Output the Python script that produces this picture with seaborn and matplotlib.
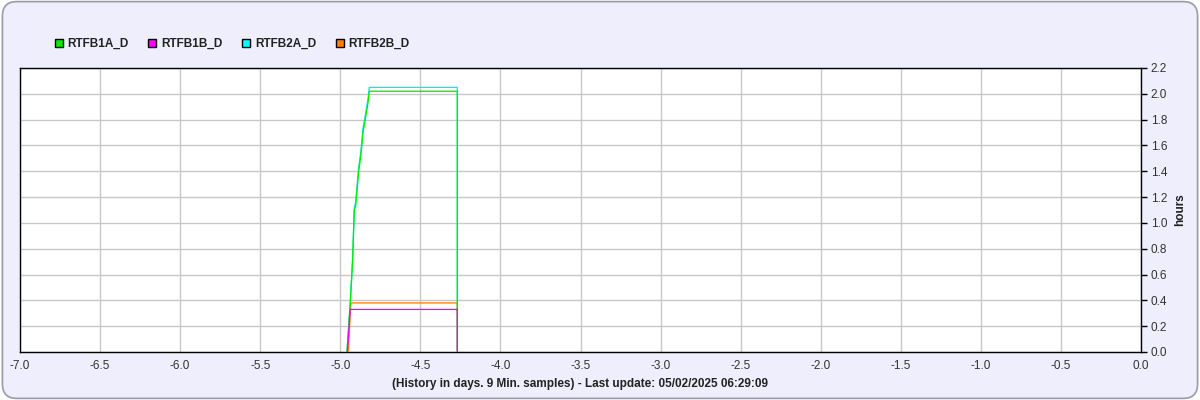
import numpy as np
import pandas as pd
import matplotlib
matplotlib.use("Agg")
import matplotlib.pyplot as plt
from matplotlib.patches import FancyBboxPatch
from matplotlib.lines import Line2D
import seaborn as sns

sns.set_style("white")
plt.rcParams['font.family'] = ['Liberation Sans', 'DejaVu Sans']

# ---- data ----
series_names = ["RTFB1A_D", "RTFB1B_D", "RTFB2A_D", "RTFB2B_D"]
series_colors = ["#00ee00", "#ff00ff", "#00eeee", "#ff8000"]

rtfb1a_x = [-4.958, -4.9375, -4.923, -4.9125, -4.904, -4.902, -4.886, -4.871, -4.858, -4.827, -4.824, -4.819, -4.269, -4.269]
rtfb1a_y = [0.0, 0.38, 0.71, 1.10, 1.13, 1.16, 1.39, 1.53, 1.70, 1.93, 1.96, 2.02, 2.02, 0.0]

rtfb1b_x = [-4.956, -4.938, -4.269, -4.269]
rtfb1b_y = [0.0, 0.33, 0.33, 0.0]

rtfb2a_x = [-4.958, -4.9375, -4.923, -4.9125, -4.904, -4.902, -4.886, -4.871, -4.858, -4.827, -4.824, -4.819, -4.269, -4.269]
rtfb2a_y = [0.0, 0.39, 0.72, 1.12, 1.16, 1.19, 1.42, 1.56, 1.73, 1.96, 1.99, 2.05, 2.05, 0.0]

rtfb2b_x = [-4.950, -4.934, -4.269, -4.269]
rtfb2b_y = [0.0, 0.38, 0.38, 0.0]

x_ticks = [-7.0, -6.5, -6.0, -5.5, -5.0, -4.5, -4.0, -3.5, -3.0, -2.5, -2.0, -1.5, -1.0, -0.5, 0.0]
y_ticks = [0.0, 0.2, 0.4, 0.6, 0.8, 1.0, 1.2, 1.4, 1.6, 1.8, 2.0, 2.2]
x_label = "(History in days. 9 Min. samples) - Last update: 05/02/2025 06:29:09"
y_label = "hours"

# ---- figure ----
bg = "#eeeefc"
fig = plt.figure(figsize=(12, 4), dpi=100)
fig.patch.set_facecolor("white")
box = FancyBboxPatch((0.002, 0.004), 0.996, 0.992, boxstyle="round,pad=0,rounding_size=0.012",
                     transform=fig.transFigure, facecolor=bg, edgecolor="#9a9aa8", linewidth=1.2,
                     mutation_aspect=3, zorder=-10)
fig.patches.append(box)

ax = fig.add_axes([20/1200, 48/400, 1121/1200, 284/400])
ax.set_facecolor("white")

xs = [rtfb1a_x, rtfb1b_x, rtfb2a_x, rtfb2b_x]
ys = [rtfb1a_y, rtfb1b_y, rtfb2a_y, rtfb2b_y]
order = [2, 3, 0, 1]
for i in order:
    df = pd.DataFrame({"x": xs[i], "y": ys[i]})
    sns.lineplot(data=df, x="x", y="y", ax=ax, color=series_colors[i], linewidth=0.95,
                 sort=False, estimator=None, zorder=3)

ax.set_xlim(-7.0, 0.0)
ax.set_ylim(0.0, 2.2)
ax.set_xticks(x_ticks)
ax.set_xticklabels([f"{t:.1f}" for t in x_ticks])
ax.set_yticks(y_ticks)
ax.set_yticklabels([f"{t:.1f}" for t in y_ticks])
ax.yaxis.tick_right()
ax.yaxis.set_label_position("right")
ax.tick_params(axis="both", direction="out", length=4, width=1, color="black",
               labelsize=8.5, labelcolor="#333333", pad=2)
ax.tick_params(axis="y", pad=3)
ax.grid(True, color="#c8c8c8", linewidth=1)
ax.set_axisbelow(True)
for s in ax.spines.values():
    s.set_color("black")
    s.set_linewidth(1)
ax.set_xlabel(x_label, fontsize=8.5, fontweight="bold", color="#222222", labelpad=4)
ax.set_ylabel(y_label, fontsize=8.5, fontweight="bold", color="#222222", labelpad=5)

handles = [Line2D([0], [0], marker="s", linestyle="none", markersize=6,
                  markerfacecolor=c, markeredgecolor="black", markeredgewidth=1)
           for c in ["#00ee00", "#ff00ff", "#00ffff", "#ff8000"]]
leg = fig.legend(handles, series_names, loc="center left", bbox_to_anchor=(42/1200, 1 - 44/400),
                 ncol=4, frameon=False, fontsize=8.5, handletextpad=0.25, columnspacing=1.5,
                 handlelength=1.0)
for t in leg.get_texts():
    t.set_fontweight("bold")
    t.set_color("#222222")

fig.savefig("out.png", dpi=100, facecolor=fig.get_facecolor())
